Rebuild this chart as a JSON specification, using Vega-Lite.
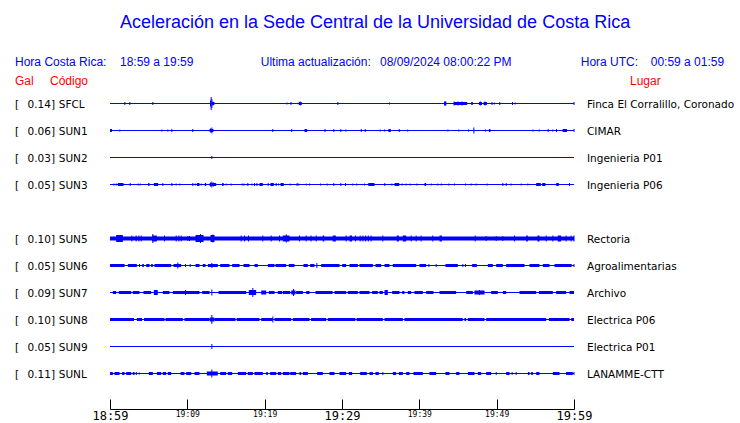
{
  "$schema": "https://vega.github.io/schema/vega-lite/v6.json",
  "width": 464,
  "height": 324,
  "autosize": {"type": "none"},
  "padding": {"left": 110, "top": 76.5, "right": 166, "bottom": 22.5},
  "background": "white",
  "config": {"view": {"stroke": null}, "axis": {"grid": false}, "axisY": {"disable": true}},
  "datasets": {
    "st": [
      {"code": "SFCL", "row": 0, "gal": 0.14, "lugar": "Finca El Corralillo, Coronado"},
      {"code": "SUN1", "row": 1, "gal": 0.06, "lugar": "CIMAR"},
      {"code": "SUN2", "row": 2, "gal": 0.03, "lugar": "Ingenieria P01"},
      {"code": "SUN3", "row": 3, "gal": 0.05, "lugar": "Ingenieria P06"},
      {"code": "SUN5", "row": 5, "gal": 0.10, "lugar": "Rectoria"},
      {"code": "SUN6", "row": 6, "gal": 0.05, "lugar": "Agroalimentarias"},
      {"code": "SUN7", "row": 7, "gal": 0.09, "lugar": "Archivo"},
      {"code": "SUN8", "row": 8, "gal": 0.10, "lugar": "Electrica P06"},
      {"code": "SUN9", "row": 9, "gal": 0.05, "lugar": "Electrica P01"},
      {"code": "SUNL", "row": 10, "gal": 0.11, "lugar": "LANAMME-CTT"}
    ],
    "band": [
      {"s":"SFCL","t":13.2,"e":13.5,"w":3},{"s":"SFCL","t":24.4,"e":24.8,"w":3},{"s":"SFCL","t":43.2,"e":43.5,"w":4},{"s":"SFCL","t":44.46,"e":46.19,"w":3},{"s":"SFCL","t":46.75,"e":46.9,"w":3},{"s":"SFCL","t":47.7,"e":48.1,"w":3},{"s":"SFCL","t":48.3,"e":48.73,"w":3},
      {"s":"SUN1","t":0,"e":0.25,"w":3},{"s":"SUN1","t":12.87,"e":13.38,"w":3},{"s":"SUN1","t":25.15,"e":25.5,"w":3},{"s":"SUN1","t":36.0,"e":36.3,"w":3},{"s":"SUN1","t":49.0,"e":49.2,"w":3},{"s":"SUN1","t":58.56,"e":59.1,"w":3},
      {"s":"SUN3","t":1.01,"e":1.75,"w":3},{"s":"SUN3","t":4.94,"e":5.11,"w":3},{"s":"SUN3","t":5.67,"e":6.23,"w":3},{"s":"SUN3","t":11.23,"e":11.57,"w":3},{"s":"SUN3","t":12.26,"e":12.44,"w":3},{"s":"SUN3","t":12.87,"e":13.73,"w":3},{"s":"SUN3","t":14.5,"e":14.7,"w":3},{"s":"SUN3","t":19.33,"e":19.76,"w":3},{"s":"SUN3","t":20.75,"e":21.19,"w":3},{"s":"SUN3","t":22.05,"e":22.48,"w":3},{"s":"SUN3","t":33.4,"e":34.2,"w":3},{"s":"SUN3","t":36.8,"e":37.4,"w":3},{"s":"SUN3","t":40.67,"e":40.88,"w":3},{"s":"SUN3","t":55.1,"e":55.7,"w":3},{"s":"SUN3","t":55.9,"e":56.3,"w":3},{"s":"SUN3","t":57.7,"e":58.03,"w":3},
      {"s":"SUN5","t":0,"e":60,"w":4},{"s":"SUN5","t":0.8,"e":1.66,"w":7},{"s":"SUN5","t":5.45,"e":6.06,"w":6},{"s":"SUN5","t":11.06,"e":12.09,"w":7},{"s":"SUN5","t":13.0,"e":13.51,"w":7},{"s":"SUN5","t":22.35,"e":23.21,"w":6},{"s":"SUN5","t":27.5,"e":27.7,"w":6},{"s":"SUN5","t":28.8,"e":29.2,"w":6},{"s":"SUN5","t":30.97,"e":31.3,"w":6},{"s":"SUN5","t":37.09,"e":37.35,"w":6},{"s":"SUN5","t":37.86,"e":38.3,"w":6},{"s":"SUN5","t":42.61,"e":42.91,"w":6},{"s":"SUN5","t":53.82,"e":54.03,"w":6},{"s":"SUN5","t":55.28,"e":55.54,"w":6},{"s":"SUN5","t":57.9,"e":58.33,"w":6},
      {"s":"SUN6","t":0,"e":1.88,"w":3},{"s":"SUN6","t":2.31,"e":3.47,"w":3},{"s":"SUN6","t":4.16,"e":4.38,"w":3},{"s":"SUN6","t":4.68,"e":5.11,"w":3},{"s":"SUN6","t":5.32,"e":5.54,"w":3},{"s":"SUN6","t":5.75,"e":7.91,"w":3},{"s":"SUN6","t":8.21,"e":9.2,"w":3},{"s":"SUN6","t":11.06,"e":11.57,"w":3},{"s":"SUN6","t":12.0,"e":12.35,"w":3},{"s":"SUN6","t":12.66,"e":13.94,"w":3},{"s":"SUN6","t":14.25,"e":15.45,"w":3},{"s":"SUN6","t":15.8,"e":16.75,"w":3},{"s":"SUN6","t":17.26,"e":18.04,"w":3},{"s":"SUN6","t":18.69,"e":19.12,"w":3},{"s":"SUN6","t":20.41,"e":21.27,"w":3},{"s":"SUN6","t":21.4,"e":22.78,"w":3},{"s":"SUN6","t":23.12,"e":23.86,"w":3},{"s":"SUN6","t":25.02,"e":25.58,"w":3},{"s":"SUN6","t":25.88,"e":26.44,"w":3},{"s":"SUN6","t":27.31,"e":29.68,"w":3},{"s":"SUN6","t":30.02,"e":30.54,"w":3},{"s":"SUN6","t":30.97,"e":32.05,"w":3},{"s":"SUN6","t":32.26,"e":33.99,"w":3},{"s":"SUN6","t":34.33,"e":35.06,"w":3},{"s":"SUN6","t":35.5,"e":36.14,"w":3},{"s":"SUN6","t":36.57,"e":39.59,"w":3},{"s":"SUN6","t":40.02,"e":40.88,"w":3},{"s":"SUN6","t":43.38,"e":44.98,"w":3},{"s":"SUN6","t":46.83,"e":47.43,"w":3},{"s":"SUN6","t":48.86,"e":49.5,"w":3},{"s":"SUN6","t":49.94,"e":50.8,"w":3},{"s":"SUN6","t":51.23,"e":53.6,"w":3},{"s":"SUN6","t":54.25,"e":55.54,"w":3},{"s":"SUN6","t":55.97,"e":56.83,"w":3},{"s":"SUN6","t":57.48,"e":59.7,"w":3},
      {"s":"SUN7","t":0.37,"e":0.8,"w":3},{"s":"SUN7","t":1.14,"e":2.74,"w":3},{"s":"SUN7","t":2.95,"e":3.81,"w":3},{"s":"SUN7","t":4.33,"e":5.32,"w":3},{"s":"SUN7","t":5.67,"e":6.18,"w":5},{"s":"SUN7","t":6.83,"e":7.69,"w":3},{"s":"SUN7","t":8.13,"e":11.57,"w":3},{"s":"SUN7","t":11.92,"e":12.87,"w":3},{"s":"SUN7","t":14.03,"e":17.61,"w":3},{"s":"SUN7","t":17.95,"e":18.9,"w":5},{"s":"SUN7","t":19.55,"e":20.2,"w":4},{"s":"SUN7","t":20.54,"e":21.27,"w":3},{"s":"SUN7","t":21.7,"e":22.26,"w":3},{"s":"SUN7","t":22.35,"e":23.3,"w":3},{"s":"SUN7","t":23.43,"e":23.99,"w":4},{"s":"SUN7","t":24.07,"e":24.94,"w":3},{"s":"SUN7","t":25.37,"e":25.8,"w":3},{"s":"SUN7","t":26.57,"e":28.78,"w":3},{"s":"SUN7","t":29.03,"e":30.54,"w":3},{"s":"SUN7","t":30.75,"e":32.05,"w":3},{"s":"SUN7","t":32.26,"e":33.56,"w":3},{"s":"SUN7","t":33.9,"e":34.63,"w":3},{"s":"SUN7","t":34.85,"e":35.28,"w":3},{"s":"SUN7","t":35.5,"e":35.93,"w":5},{"s":"SUN7","t":36.49,"e":37.43,"w":3},{"s":"SUN7","t":37.78,"e":38.08,"w":3},{"s":"SUN7","t":38.51,"e":38.94,"w":3},{"s":"SUN7","t":39.37,"e":40.45,"w":3},{"s":"SUN7","t":40.88,"e":41.83,"w":3},{"s":"SUN7","t":42.61,"e":44.76,"w":3},{"s":"SUN7","t":46.06,"e":46.92,"w":3},{"s":"SUN7","t":47.13,"e":48.43,"w":4},{"s":"SUN7","t":49.29,"e":50.15,"w":3},{"s":"SUN7","t":50.8,"e":51.23,"w":3},{"s":"SUN7","t":52.95,"e":55.11,"w":3},{"s":"SUN7","t":55.46,"e":57.26,"w":3},{"s":"SUN7","t":57.69,"e":58.98,"w":3},{"s":"SUN7","t":59.42,"e":60,"w":3},
      {"s":"SUN8","t":0,"e":3.1,"w":3},{"s":"SUN8","t":3.47,"e":4.16,"w":3},{"s":"SUN8","t":4.4,"e":7.05,"w":3},{"s":"SUN8","t":7.18,"e":9.42,"w":3},{"s":"SUN8","t":9.63,"e":12.87,"w":3},{"s":"SUN8","t":12.9,"e":13.5,"w":4},{"s":"SUN8","t":13.51,"e":16.23,"w":3},{"s":"SUN8","t":16.4,"e":19.33,"w":3},{"s":"SUN8","t":19.55,"e":21.06,"w":3},{"s":"SUN8","t":21.27,"e":23.43,"w":3},{"s":"SUN8","t":23.64,"e":25.8,"w":3},{"s":"SUN8","t":26.0,"e":27.95,"w":3},{"s":"SUN8","t":28.17,"e":31.74,"w":3},{"s":"SUN8","t":31.9,"e":35.28,"w":3},{"s":"SUN8","t":35.5,"e":37.87,"w":3},{"s":"SUN8","t":38.08,"e":45.62,"w":3},{"s":"SUN8","t":45.83,"e":46.05,"w":3},{"s":"SUN8","t":46.27,"e":48.43,"w":3},{"s":"SUN8","t":48.64,"e":56.4,"w":3},{"s":"SUN8","t":56.75,"e":59.42,"w":3},{"s":"SUN8","t":59.64,"e":60,"w":3},
      {"s":"SUNL","t":0,"e":0.37,"w":3},{"s":"SUNL","t":0.58,"e":1.23,"w":3},{"s":"SUNL","t":1.57,"e":1.88,"w":3},{"s":"SUNL","t":2.09,"e":2.74,"w":3},{"s":"SUNL","t":2.95,"e":3.17,"w":3},{"s":"SUNL","t":3.73,"e":3.81,"w":3},{"s":"SUNL","t":5.02,"e":5.54,"w":3},{"s":"SUNL","t":6.06,"e":6.62,"w":3},{"s":"SUNL","t":6.83,"e":7.26,"w":3},{"s":"SUNL","t":7.48,"e":7.91,"w":3},{"s":"SUNL","t":9.12,"e":9.63,"w":3},{"s":"SUNL","t":9.85,"e":10.5,"w":3},{"s":"SUNL","t":10.93,"e":11.57,"w":3},{"s":"SUNL","t":12.52,"e":13.94,"w":4},{"s":"SUNL","t":14.25,"e":15.02,"w":3},{"s":"SUNL","t":15.24,"e":15.8,"w":3},{"s":"SUNL","t":16.53,"e":17.61,"w":3},{"s":"SUNL","t":17.82,"e":18.47,"w":3},{"s":"SUNL","t":18.69,"e":19.76,"w":3},{"s":"SUNL","t":20.2,"e":20.41,"w":3},{"s":"SUNL","t":20.71,"e":21.49,"w":3},{"s":"SUNL","t":21.7,"e":22.13,"w":3},{"s":"SUNL","t":22.35,"e":23.21,"w":3},{"s":"SUNL","t":23.3,"e":24.07,"w":3},{"s":"SUNL","t":24.5,"e":24.72,"w":3},{"s":"SUNL","t":24.94,"e":25.58,"w":3},{"s":"SUNL","t":26.79,"e":27.52,"w":3},{"s":"SUNL","t":28.38,"e":29.03,"w":3},{"s":"SUNL","t":29.68,"e":30.54,"w":3},{"s":"SUNL","t":30.88,"e":31.31,"w":3},{"s":"SUNL","t":32.35,"e":33.21,"w":3},{"s":"SUNL","t":33.56,"e":33.99,"w":3},{"s":"SUNL","t":34.33,"e":34.76,"w":3},{"s":"SUNL","t":36.57,"e":37.0,"w":3},{"s":"SUNL","t":37.35,"e":37.86,"w":3},{"s":"SUNL","t":38.3,"e":38.73,"w":3},{"s":"SUNL","t":39.24,"e":40.45,"w":3},{"s":"SUNL","t":41.31,"e":42.18,"w":3},{"s":"SUNL","t":43.38,"e":43.9,"w":3},{"s":"SUNL","t":44.76,"e":45.19,"w":3},{"s":"SUNL","t":46.27,"e":47.13,"w":3},{"s":"SUNL","t":47.56,"e":48.0,"w":3},{"s":"SUNL","t":48.64,"e":49.29,"w":3},{"s":"SUNL","t":51.23,"e":51.66,"w":3},{"s":"SUNL","t":54.03,"e":54.25,"w":3},{"s":"SUNL","t":54.46,"e":54.68,"w":3},{"s":"SUNL","t":55.11,"e":55.54,"w":3},{"s":"SUNL","t":57.26,"e":58.13,"w":3},{"s":"SUNL","t":58.98,"e":59.85,"w":3}
    ],
    "spk": [
      {"s":"SFCL","t":1.92,"h":3},{"s":"SFCL","t":2.56,"h":3},{"s":"SFCL","t":5.54,"h":3},{"s":"SFCL","t":13.0,"h":6},{"s":"SFCL","t":13.08,"h":13},{"s":"SFCL","t":13.17,"h":9},{"s":"SFCL","t":13.3,"h":4},{"s":"SFCL","t":22.87,"h":2},{"s":"SFCL","t":23.4,"h":3},{"s":"SFCL","t":24.6,"h":4},{"s":"SFCL","t":29.46,"h":3},{"s":"SFCL","t":36.14,"h":2},{"s":"SFCL","t":43.35,"h":4},{"s":"SFCL","t":44.5,"h":4},{"s":"SFCL","t":45.0,"h":4},{"s":"SFCL","t":45.5,"h":4},{"s":"SFCL","t":46.0,"h":3},{"s":"SFCL","t":46.8,"h":3},{"s":"SFCL","t":47.9,"h":4},{"s":"SFCL","t":48.5,"h":4},{"s":"SFCL","t":49.4,"h":3},{"s":"SFCL","t":49.7,"h":2},{"s":"SFCL","t":50.4,"h":3},{"s":"SFCL","t":52.05,"h":3},{"s":"SFCL","t":52.4,"h":2},{"s":"SFCL","t":60,"h":3},
      {"s":"SUN1","t":1.27,"h":2},{"s":"SUN1","t":6.7,"h":2},{"s":"SUN1","t":7.48,"h":2},{"s":"SUN1","t":8.0,"h":3},{"s":"SUN1","t":10.7,"h":3},{"s":"SUN1","t":13.0,"h":4},{"s":"SUN1","t":13.17,"h":6},{"s":"SUN1","t":21.05,"h":3},{"s":"SUN1","t":23.5,"h":3},{"s":"SUN1","t":27.8,"h":3},{"s":"SUN1","t":28.94,"h":3},{"s":"SUN1","t":29.85,"h":3},{"s":"SUN1","t":30.5,"h":2},{"s":"SUN1","t":32.5,"h":3},{"s":"SUN1","t":33.0,"h":3},{"s":"SUN1","t":34.94,"h":2},{"s":"SUN1","t":35.5,"h":2},{"s":"SUN1","t":37.4,"h":3},{"s":"SUN1","t":38.5,"h":2},{"s":"SUN1","t":43.7,"h":2},{"s":"SUN1","t":45.1,"h":2},{"s":"SUN1","t":46.36,"h":2},{"s":"SUN1","t":47.05,"h":6},{"s":"SUN1","t":48.56,"h":2},{"s":"SUN1","t":54.7,"h":2},{"s":"SUN1","t":55.5,"h":2},{"s":"SUN1","t":56.66,"h":3},{"s":"SUN1","t":57.26,"h":2},{"s":"SUN1","t":57.74,"h":3},{"s":"SUN1","t":58.6,"h":3},{"s":"SUN1","t":59.0,"h":3},{"s":"SUN1","t":60,"h":3},
      {"s":"SUN2","t":13.17,"h":3},
      {"s":"SUN3","t":0.5,"h":2},{"s":"SUN3","t":0.8,"h":2},{"s":"SUN3","t":1.1,"h":3},{"s":"SUN3","t":1.5,"h":3},{"s":"SUN3","t":2.61,"h":3},{"s":"SUN3","t":3.64,"h":2},{"s":"SUN3","t":3.9,"h":2},{"s":"SUN3","t":6.83,"h":3},{"s":"SUN3","t":8.0,"h":3},{"s":"SUN3","t":8.56,"h":2},{"s":"SUN3","t":9.03,"h":2},{"s":"SUN3","t":10.71,"h":3},{"s":"SUN3","t":11.02,"h":2},{"s":"SUN3","t":11.79,"h":2},{"s":"SUN3","t":13.0,"h":4},{"s":"SUN3","t":13.17,"h":6},{"s":"SUN3","t":13.4,"h":4},{"s":"SUN3","t":15.02,"h":2},{"s":"SUN3","t":15.67,"h":2},{"s":"SUN3","t":17.09,"h":2},{"s":"SUN3","t":17.31,"h":2},{"s":"SUN3","t":17.82,"h":3},{"s":"SUN3","t":18.34,"h":2},{"s":"SUN3","t":18.69,"h":3},{"s":"SUN3","t":18.99,"h":3},{"s":"SUN3","t":20.45,"h":3},{"s":"SUN3","t":21.49,"h":3},{"s":"SUN3","t":21.79,"h":2},{"s":"SUN3","t":23.3,"h":2},{"s":"SUN3","t":24.2,"h":3},{"s":"SUN3","t":24.42,"h":2},{"s":"SUN3","t":25.37,"h":2},{"s":"SUN3","t":25.8,"h":2},{"s":"SUN3","t":27.22,"h":2},{"s":"SUN3","t":28.08,"h":2},{"s":"SUN3","t":28.94,"h":3},{"s":"SUN3","t":29.85,"h":3},{"s":"SUN3","t":30.46,"h":3},{"s":"SUN3","t":31.4,"h":2},{"s":"SUN3","t":31.9,"h":2},{"s":"SUN3","t":32.9,"h":2},{"s":"SUN3","t":33.6,"h":3},{"s":"SUN3","t":34.0,"h":3},{"s":"SUN3","t":35.54,"h":3},{"s":"SUN3","t":36.44,"h":2},{"s":"SUN3","t":37.78,"h":2},{"s":"SUN3","t":38.3,"h":2},{"s":"SUN3","t":38.81,"h":2},{"s":"SUN3","t":39.68,"h":2},{"s":"SUN3","t":41.53,"h":2},{"s":"SUN3","t":42.39,"h":2},{"s":"SUN3","t":42.83,"h":2},{"s":"SUN3","t":43.81,"h":2},{"s":"SUN3","t":44.55,"h":2},{"s":"SUN3","t":45.97,"h":2},{"s":"SUN3","t":46.7,"h":2},{"s":"SUN3","t":47.35,"h":2},{"s":"SUN3","t":48.77,"h":2},{"s":"SUN3","t":50.8,"h":3},{"s":"SUN3","t":51.23,"h":3},{"s":"SUN3","t":51.87,"h":2},{"s":"SUN3","t":53.17,"h":2},{"s":"SUN3","t":54.03,"h":2},{"s":"SUN3","t":55.5,"h":3},{"s":"SUN3","t":56.0,"h":3},{"s":"SUN3","t":59.42,"h":3},
      {"s":"SUN5","t":2.82,"h":6},{"s":"SUN5","t":3.38,"h":6},{"s":"SUN5","t":3.73,"h":6},{"s":"SUN5","t":4.03,"h":6},{"s":"SUN5","t":5.54,"h":9},{"s":"SUN5","t":7.05,"h":6},{"s":"SUN5","t":8.56,"h":6},{"s":"SUN5","t":8.9,"h":6},{"s":"SUN5","t":9.2,"h":6},{"s":"SUN5","t":10.06,"h":5},{"s":"SUN5","t":10.28,"h":5},{"s":"SUN5","t":11.7,"h":9},{"s":"SUN5","t":13.3,"h":8},{"s":"SUN5","t":16.96,"h":6},{"s":"SUN5","t":17.39,"h":6},{"s":"SUN5","t":17.91,"h":6},{"s":"SUN5","t":19.76,"h":6},{"s":"SUN5","t":20.84,"h":6},{"s":"SUN5","t":21.92,"h":6},{"s":"SUN5","t":22.8,"h":8},{"s":"SUN5","t":24.5,"h":6},{"s":"SUN5","t":25.37,"h":6},{"s":"SUN5","t":26.0,"h":6},{"s":"SUN5","t":26.66,"h":6},{"s":"SUN5","t":30.54,"h":6},{"s":"SUN5","t":31.74,"h":6},{"s":"SUN5","t":32.35,"h":6},{"s":"SUN5","t":32.7,"h":6},{"s":"SUN5","t":33.05,"h":6},{"s":"SUN5","t":33.4,"h":6},{"s":"SUN5","t":33.77,"h":6},{"s":"SUN5","t":35.28,"h":6},{"s":"SUN5","t":38.94,"h":6},{"s":"SUN5","t":39.59,"h":6},{"s":"SUN5","t":40.23,"h":6},{"s":"SUN5","t":41.74,"h":6},{"s":"SUN5","t":47.22,"h":6},{"s":"SUN5","t":48.64,"h":5},{"s":"SUN5","t":49.94,"h":5},{"s":"SUN5","t":50.8,"h":5},{"s":"SUN5","t":52.31,"h":6},{"s":"SUN5","t":56.4,"h":6},{"s":"SUN5","t":57.26,"h":6},{"s":"SUN5","t":58.98,"h":6},{"s":"SUN5","t":59.62,"h":6},{"s":"SUN5","t":60,"h":6},
      {"s":"SUN6","t":3.81,"h":3},{"s":"SUN6","t":8.77,"h":6},{"s":"SUN6","t":9.76,"h":3},{"s":"SUN6","t":10.37,"h":3},{"s":"SUN6","t":13.17,"h":5},{"s":"SUN6","t":26.75,"h":5},{"s":"SUN6","t":41.23,"h":3},{"s":"SUN6","t":42.18,"h":3},{"s":"SUN6","t":45.62,"h":3},{"s":"SUN6","t":45.97,"h":3},{"s":"SUN6","t":60,"h":3},
      {"s":"SUN7","t":5.9,"h":5},{"s":"SUN7","t":9.76,"h":5},{"s":"SUN7","t":13.17,"h":6},{"s":"SUN7","t":18.47,"h":9},{"s":"SUN7","t":23.73,"h":7},{"s":"SUN7","t":35.71,"h":5},{"s":"SUN7","t":47.78,"h":5},
      {"s":"SUN8","t":13.17,"h":9},{"s":"SUN8","t":21.06,"h":6},
      {"s":"SUN9","t":13.17,"h":5},
      {"s":"SUNL","t":3.4,"h":3},{"s":"SUNL","t":13.17,"h":8},{"s":"SUNL","t":35.28,"h":3},{"s":"SUNL","t":49.94,"h":3},{"s":"SUNL","t":52.0,"h":3},{"s":"SUNL","t":52.52,"h":3},{"s":"SUNL","t":60,"h":3}
    ]
  },
  "layer": [
    {
      "data": {"name": "st"},
      "mark": {"type": "rule", "color": "#0000ff", "strokeWidth": 1},
      "encoding": {
        "x": {"datum": 0, "type": "quantitative", "scale": {"domain": [0, 60], "nice": false, "zero": false}, "axis": {"title": null}},
        "x2": {"datum": 60},
        "y": {"field": "row", "type": "quantitative", "scale": {"domain": [-1, 11], "nice": false, "zero": false, "reverse": true}, "axis": null}
      }
    },
    {
      "data": {"name": "band"},
      "transform": [{"lookup": "s", "from": {"data": {"name": "st"}, "key": "code", "fields": ["row"]}}],
      "mark": {"type": "rule", "color": "#0000ff"},
      "encoding": {
        "x": {"field": "t", "type": "quantitative", "scale": {"domain": [0, 60], "nice": false, "zero": false}, "axis": {"title": null}},
        "x2": {"field": "e"},
        "y": {"field": "row", "type": "quantitative", "scale": {"domain": [-1, 11], "nice": false, "zero": false, "reverse": true}, "axis": null},
        "strokeWidth": {"field": "w", "type": "quantitative", "scale": {"type": "linear", "domain": [0, 10], "range": [0, 10]}, "legend": null}
      }
    },
    {
      "data": {"name": "spk"},
      "transform": [{"lookup": "s", "from": {"data": {"name": "st"}, "key": "code", "fields": ["row"]}}],
      "mark": {"type": "tick", "orient": "vertical", "thickness": 1, "color": "#0000ff", "opacity": 1},
      "encoding": {
        "x": {
          "field": "t", "type": "quantitative",
          "scale": {"domain": [0, 60], "nice": false, "zero": false},
          "axis": {
            "title": null,
            "values": [0, 5, 10, 15, 20, 25, 30, 35, 40, 45, 50, 55, 60],
            "labelExpr": "datum.value % 10 == 0 ? timeFormat(datetime(2024, 7, 9, 18, 59 + datum.value), '%H:%M') : ''",
            "labelFontSize": {"condition": {"test": "datum.value % 30 == 0", "value": 12}, "value": 8},
            "labelFont": "DejaVu Sans Mono",
            "labelColor": "black",
            "labelBaseline": "top",
            "labelPadding": 11.8,
            "labelFlush": false,
            "labelOverlap": false,
            "labelBound": false,
            "tickSize": -10,
            "tickColor": "black",
            "tickWidth": 1,
            "domainColor": "black",
            "domainWidth": 1,
            "offset": 8.5,
            "grid": false
          }
        },
        "y": {"field": "row", "type": "quantitative", "scale": {"domain": [-1, 11], "nice": false, "zero": false, "reverse": true}, "axis": null},
        "size": {"field": "h", "type": "quantitative", "scale": {"type": "linear", "domain": [0, 20], "range": [0, 20]}, "legend": null}
      }
    },
    {
      "data": {"name": "st"},
      "mark": {"type": "text", "text": "[", "align": "left", "baseline": "alphabetic", "dy": 4, "font": "DejaVu Sans", "fontSize": 10.5, "color": "black"},
      "encoding": {
        "x": {"datum": -12.28, "type": "quantitative", "scale": {"domain": [0, 60], "nice": false, "zero": false}},
        "y": {"field": "row", "type": "quantitative", "scale": {"domain": [-1, 11], "nice": false, "zero": false, "reverse": true}, "axis": null}
      }
    },
    {
      "data": {"name": "st"},
      "mark": {"type": "text", "align": "right", "baseline": "alphabetic", "dy": 4, "font": "DejaVu Sans", "fontSize": 10.5, "color": "black"},
      "encoding": {
        "x": {"datum": -7.64, "type": "quantitative", "scale": {"domain": [0, 60], "nice": false, "zero": false}},
        "y": {"field": "row", "type": "quantitative", "scale": {"domain": [-1, 11], "nice": false, "zero": false, "reverse": true}, "axis": null},
        "text": {"field": "gal", "type": "quantitative", "format": ".2f"}
      }
    },
    {
      "data": {"name": "st"},
      "mark": {"type": "text", "text": "]", "align": "left", "baseline": "alphabetic", "dy": 4, "font": "DejaVu Sans", "fontSize": 10.5, "color": "black"},
      "encoding": {
        "x": {"datum": -7.64, "type": "quantitative", "scale": {"domain": [0, 60], "nice": false, "zero": false}},
        "y": {"field": "row", "type": "quantitative", "scale": {"domain": [-1, 11], "nice": false, "zero": false, "reverse": true}, "axis": null}
      }
    },
    {
      "data": {"name": "st"},
      "mark": {"type": "text", "align": "left", "baseline": "alphabetic", "dy": 4, "font": "DejaVu Sans", "fontSize": 10.5, "color": "black"},
      "encoding": {
        "x": {"datum": -6.63, "type": "quantitative", "scale": {"domain": [0, 60], "nice": false, "zero": false}},
        "y": {"field": "row", "type": "quantitative", "scale": {"domain": [-1, 11], "nice": false, "zero": false, "reverse": true}, "axis": null},
        "text": {"field": "code", "type": "nominal"}
      }
    },
    {
      "data": {"name": "st"},
      "mark": {"type": "text", "align": "left", "baseline": "alphabetic", "dy": 4, "font": "DejaVu Sans", "fontSize": 10.5, "color": "black"},
      "encoding": {
        "x": {"datum": 61.68, "type": "quantitative", "scale": {"domain": [0, 60], "nice": false, "zero": false}},
        "y": {"field": "row", "type": "quantitative", "scale": {"domain": [-1, 11], "nice": false, "zero": false, "reverse": true}, "axis": null},
        "text": {"field": "lugar", "type": "nominal"}
      }
    },
    {
      "data": {"values": [{}]},
      "mark": {"type": "text", "text": "Aceleración en la Sede Central de la Universidad de Costa Rica", "align": "center", "baseline": "alphabetic", "font": "Liberation Sans", "fontSize": 18, "color": "#0000ff"},
      "encoding": {
        "x": {"datum": 34.27, "type": "quantitative", "scale": {"domain": [0, 60], "nice": false, "zero": false}},
        "y": {"datum": -2.778, "type": "quantitative", "scale": {"domain": [-1, 11], "nice": false, "zero": false, "reverse": true}, "axis": null}
      }
    },
    {
      "data": {"values": [{}]},
      "mark": {"type": "text", "text": "Hora Costa Rica:", "align": "left", "baseline": "alphabetic", "font": "Liberation Sans", "fontSize": 12, "color": "#0000ff"},
      "encoding": {
        "x": {"datum": -12.28, "type": "quantitative", "scale": {"domain": [0, 60], "nice": false, "zero": false}},
        "y": {"datum": -1.4, "type": "quantitative", "scale": {"domain": [-1, 11], "nice": false, "zero": false, "reverse": true}, "axis": null}
      }
    },
    {
      "data": {"values": [{}]},
      "mark": {"type": "text", "text": "18:59 a 19:59", "align": "left", "baseline": "alphabetic", "font": "Liberation Sans", "fontSize": 12, "color": "#0000ff"},
      "encoding": {
        "x": {"datum": 1.293, "type": "quantitative", "scale": {"domain": [0, 60], "nice": false, "zero": false}},
        "y": {"datum": -1.4, "type": "quantitative", "scale": {"domain": [-1, 11], "nice": false, "zero": false, "reverse": true}, "axis": null}
      }
    },
    {
      "data": {"values": [{}]},
      "mark": {"type": "text", "text": "Ultima actualización:", "align": "left", "baseline": "alphabetic", "font": "Liberation Sans", "fontSize": 12, "color": "#0000ff"},
      "encoding": {
        "x": {"datum": 19.49, "type": "quantitative", "scale": {"domain": [0, 60], "nice": false, "zero": false}},
        "y": {"datum": -1.4, "type": "quantitative", "scale": {"domain": [-1, 11], "nice": false, "zero": false, "reverse": true}, "axis": null}
      }
    },
    {
      "data": {"values": [{}]},
      "mark": {"type": "text", "text": "08/09/2024 08:00:22 PM", "align": "left", "baseline": "alphabetic", "font": "Liberation Sans", "fontSize": 12, "color": "#0000ff"},
      "encoding": {
        "x": {"datum": 34.91, "type": "quantitative", "scale": {"domain": [0, 60], "nice": false, "zero": false}},
        "y": {"datum": -1.4, "type": "quantitative", "scale": {"domain": [-1, 11], "nice": false, "zero": false, "reverse": true}, "axis": null}
      }
    },
    {
      "data": {"values": [{}]},
      "mark": {"type": "text", "text": "Hora UTC:", "align": "left", "baseline": "alphabetic", "font": "Liberation Sans", "fontSize": 12, "color": "#0000ff"},
      "encoding": {
        "x": {"datum": 60.87, "type": "quantitative", "scale": {"domain": [0, 60], "nice": false, "zero": false}},
        "y": {"datum": -1.4, "type": "quantitative", "scale": {"domain": [-1, 11], "nice": false, "zero": false, "reverse": true}, "axis": null}
      }
    },
    {
      "data": {"values": [{}]},
      "mark": {"type": "text", "text": "00:59 a 01:59", "align": "left", "baseline": "alphabetic", "font": "Liberation Sans", "fontSize": 12, "color": "#0000ff"},
      "encoding": {
        "x": {"datum": 69.92, "type": "quantitative", "scale": {"domain": [0, 60], "nice": false, "zero": false}},
        "y": {"datum": -1.4, "type": "quantitative", "scale": {"domain": [-1, 11], "nice": false, "zero": false, "reverse": true}, "axis": null}
      }
    },
    {
      "data": {"values": [{}]},
      "mark": {"type": "text", "text": "Gal", "align": "left", "baseline": "alphabetic", "font": "Liberation Sans", "fontSize": 12, "color": "#ff0000"},
      "encoding": {
        "x": {"datum": -12.28, "type": "quantitative", "scale": {"domain": [0, 60], "nice": false, "zero": false}},
        "y": {"datum": -0.685, "type": "quantitative", "scale": {"domain": [-1, 11], "nice": false, "zero": false, "reverse": true}, "axis": null}
      }
    },
    {
      "data": {"values": [{}]},
      "mark": {"type": "text", "text": "Código", "align": "left", "baseline": "alphabetic", "font": "Liberation Sans", "fontSize": 12, "color": "#ff0000"},
      "encoding": {
        "x": {"datum": -7.76, "type": "quantitative", "scale": {"domain": [0, 60], "nice": false, "zero": false}},
        "y": {"datum": -0.685, "type": "quantitative", "scale": {"domain": [-1, 11], "nice": false, "zero": false, "reverse": true}, "axis": null}
      }
    },
    {
      "data": {"values": [{}]},
      "mark": {"type": "text", "text": "Lugar", "align": "left", "baseline": "alphabetic", "font": "Liberation Sans", "fontSize": 12, "color": "#ff0000"},
      "encoding": {
        "x": {"datum": 67.24, "type": "quantitative", "scale": {"domain": [0, 60], "nice": false, "zero": false}},
        "y": {"datum": -0.685, "type": "quantitative", "scale": {"domain": [-1, 11], "nice": false, "zero": false, "reverse": true}, "axis": null}
      }
    }
  ]
}
